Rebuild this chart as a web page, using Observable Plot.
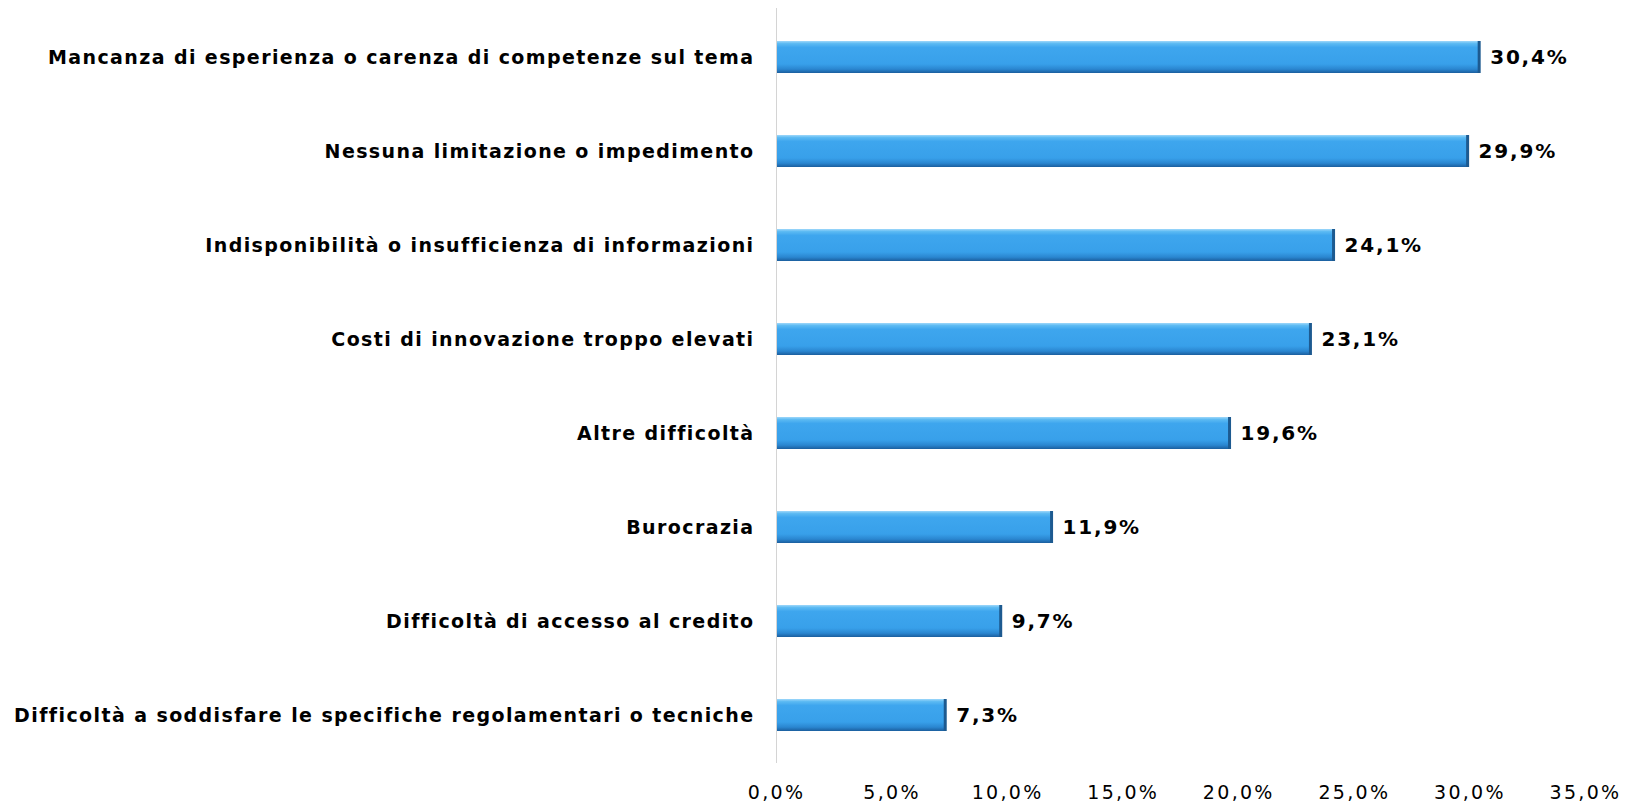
<!DOCTYPE html>
<html>
<head>
<meta charset="utf-8">
<script src="https://cdn.jsdelivr.net/npm/d3@7"></script>
<script src="https://cdn.jsdelivr.net/npm/@observablehq/plot@0.6"></script>
<style>
  html, body { margin: 0; padding: 0; background: #fff; }
  #chart svg { display: block; }
  .ylab text { letter-spacing: 1.4px; }
  .vlab text { letter-spacing: 1.8px; }
  .xlab text { letter-spacing: 2.3px; }
</style>
</head>
<body>
<div id="chart"></div>
<script>
const categories = [
  "Mancanza di esperienza o carenza di competenze sul tema",
  "Nessuna limitazione o impedimento",
  "Indisponibilità o insufficienza di informazioni",
  "Costi di innovazione troppo elevati",
  "Altre difficoltà",
  "Burocrazia",
  "Difficoltà di accesso al credito",
  "Difficoltà a soddisfare le specifiche regolamentari o tecniche"
];
const values = [30.4, 29.9, 24.1, 23.1, 19.6, 11.9, 9.7, 7.3];
const xTicks = [0, 5, 10, 15, 20, 25, 30, 35];

const data = categories.map((c, i) => ({category: c, value: values[i]}));
const fmt = d => d.toFixed(1).replace(".", ",") + "%";

const plot = Plot.plot({
  width: 1633,
  height: 802,
  marginLeft: 776,
  marginRight: 48,
  marginTop: 8,
  marginBottom: 39,
  style: {fontFamily: "'DejaVu Sans', Verdana, sans-serif", background: "#fff", color: "#000"},
  x: {domain: [0, 35], ticks: xTicks, tickFormat: fmt},
  y: {domain: categories, paddingInner: 0.66, paddingOuter: 0.33},
  marks: [
    Plot.barX(data, {x: "value", y: "category", fill: "url(#barGrad)", inset: 0}),
    Plot.tickX(data, {x: "value", y: "category", stroke: "#1d5a90", strokeWidth: 3, inset: 0}),
    Plot.ruleX([0], {stroke: "#d4d4d4", strokeWidth: 1}),
    Plot.text(data, {x: "value", y: "category", text: d => fmt(d.value), dx: 11, textAnchor: "start", fontWeight: "bold", fontSize: 20, fill: "#000", className: "vlab"}),
    Plot.axisY({tickSize: 0, tickPadding: 22, fontSize: 19, fontWeight: "bold", label: null, className: "ylab"}),
    Plot.axisX({ticks: xTicks, tickFormat: fmt, tickSize: 0, tickPadding: 22, fontSize: 19, label: null, className: "xlab"})
  ]
});

const ns = "http://www.w3.org/2000/svg";
const defs = document.createElementNS(ns, "defs");
defs.innerHTML = `
  <linearGradient id="barGrad" x1="0" y1="0" x2="0" y2="1">
    <stop offset="0" stop-color="#9fd8fa"/>
    <stop offset="0.08" stop-color="#5cbaf3"/>
    <stop offset="0.2" stop-color="#3ea6ee"/>
    <stop offset="0.72" stop-color="#38a0ea"/>
    <stop offset="0.88" stop-color="#2a86d0"/>
    <stop offset="1" stop-color="#1b5e9e"/>
  </linearGradient>`;
plot.insertBefore(defs, plot.firstChild);
document.getElementById("chart").appendChild(plot);
</script>
</body>
</html>
